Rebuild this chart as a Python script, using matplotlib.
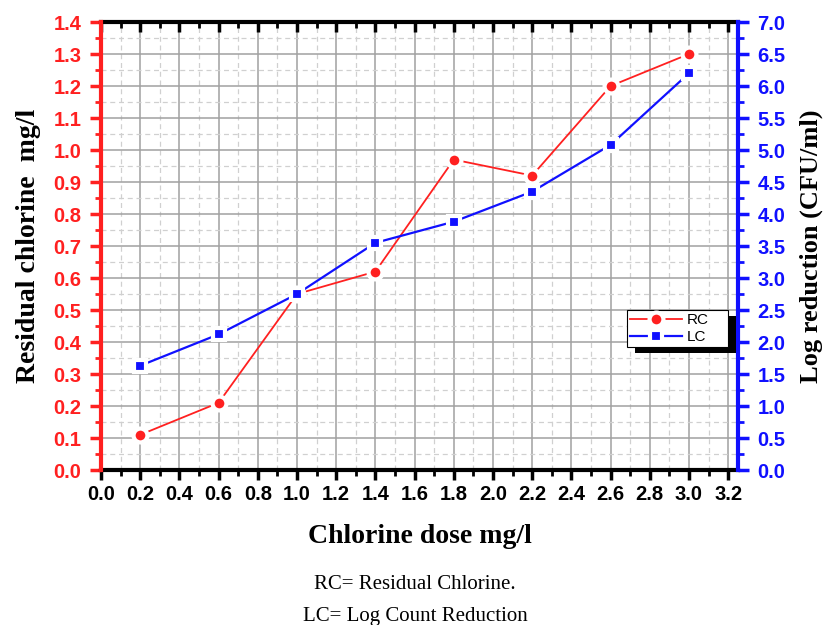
import matplotlib
matplotlib.use("Agg")
import matplotlib.pyplot as plt
from matplotlib.patches import Rectangle
from matplotlib.transforms import IdentityTransform
from matplotlib.ticker import MultipleLocator

# chlorine dose (mg/l)
dose = [0.2, 0.6, 1.0, 1.4, 1.8, 2.2, 2.6, 3.0]
# residual chlorine (mg/l), left axis
rc = [0.11, 0.21, 0.55, 0.62, 0.97, 0.92, 1.20, 1.30]
# log count reduction (CFU/ml), right axis
lc = [1.63, 2.12, 2.75, 3.55, 3.88, 4.35, 5.08, 6.20]

x_ticks = [round(0.2 * i, 1) for i in range(17)]
rc_ticks = [round(0.1 * i, 1) for i in range(15)]
lc_ticks = [0.5 * i for i in range(15)]

RED = "#ff2020"
BLUE = "#1010ff"
sans = "Liberation Sans"
serif = "Liberation Serif"

fig = plt.figure(figsize=(8.24, 6.25), dpi=100)
ax = fig.add_axes([0.1226, 0.248, 0.773, 0.7168])
ax2 = ax.twinx()

# lines are drawn with a small gap around each marker
gap = dict(markeredgecolor="white", markeredgewidth=3)
l1, = ax.plot(dose, rc, color=RED, lw=1.3, marker="o", ms=10, markerfacecolor=RED, zorder=3, **gap)
l2, = ax2.plot(dose, lc, color=BLUE, lw=1.6, marker="s", ms=9, markerfacecolor=BLUE, zorder=3, **gap)

ax.set_xlim(0, 3.25)
ax.set_ylim(0, 1.4)
ax2.set_ylim(0, 7.0)

ax.xaxis.set_minor_locator(MultipleLocator(0.1))
ax.yaxis.set_minor_locator(MultipleLocator(0.05))
ax2.yaxis.set_minor_locator(MultipleLocator(0.25))

ax.grid(which="major", color="#a0a0a0", lw=1.1, ls="-")
ax.grid(which="minor", color="#d0d0d0", lw=0.9, ls=(0, (4, 3)))
ax.set_axisbelow(True)

# spines
for side in ["top", "bottom"]:
    ax.spines[side].set_linewidth(3)
    ax.spines[side].set_color("black")
ax2.spines["top"].set_visible(False)
ax2.spines["bottom"].set_visible(False)
ax2.spines["left"].set_color(RED)
ax2.spines["left"].set_linewidth(3)
ax2.spines["right"].set_color(BLUE)
ax2.spines["right"].set_linewidth(3)
ax.spines["left"].set_visible(False)
ax.spines["right"].set_visible(False)

ax.tick_params(axis="x", which="major", direction="out", length=7, width=2.5, color="black", top=True)
ax.tick_params(axis="x", which="minor", direction="out", length=4, width=2, color="black", top=True)
ax.set_xticks(x_ticks)
ax.set_xticklabels([f"{v:.1f}" for v in x_ticks], fontfamily=sans, fontweight="bold",
                   fontsize=14.5, color="black")
# top ticks point inward
for t in ax.xaxis.get_major_ticks() + ax.xaxis.get_minor_ticks():
    t.tick2line.set_marker(3)

ax.tick_params(axis="y", which="major", direction="out", length=8, width=2.5, color=RED, pad=6)
ax.tick_params(axis="y", which="minor", direction="out", length=4.5, width=2, color=RED)
ax2.tick_params(axis="y", which="major", direction="out", length=8, width=2.5, color=BLUE, pad=6)
ax2.tick_params(axis="y", which="minor", direction="out", length=4.5, width=2, color=BLUE)

ax.set_yticks(rc_ticks)
ax.set_yticklabels([f"{v:.1f}" for v in rc_ticks], fontfamily=sans, fontweight="bold",
                   fontsize=14.5, color=RED)
ax2.set_yticks(lc_ticks)
ax2.set_yticklabels([f"{v:.1f}" for v in lc_ticks], fontfamily=sans, fontweight="bold",
                    fontsize=14.5, color=BLUE)

ax.set_xlabel("Chlorine dose mg/l", fontfamily=serif, fontweight="bold", fontsize=20, labelpad=15)
ax.set_ylabel("Residual chlorine  mg/l", fontfamily=serif, fontweight="bold", fontsize=20, labelpad=9)
ax2.set_ylabel("Log reduction (CFU/ml)", fontfamily=serif, fontweight="bold", fontsize=19, labelpad=10)

leg = ax2.legend([l1, l2], ["RC", "LC"], loc="lower left", bbox_to_anchor=(0.826, 0.2746, 0.159, 0.076),
                 mode="expand", frameon=True, fancybox=False, framealpha=1, edgecolor="black",
                 prop={"family": sans, "size": 11}, handlelength=3.4, borderpad=0.2,
                 labelspacing=0.2, handletextpad=0.3, borderaxespad=0)
leg.get_frame().set_linewidth(0.8)
leg.set_zorder(10)

fig.text(0.504, 0.057, "RC= Residual Chlorine.", ha="center", fontfamily=serif, fontsize=15)
fig.text(0.504, 0.006, "LC= Log Count Reduction", ha="center", fontfamily=serif, fontsize=15)

# legend drop shadow
fig.canvas.draw()
bb = leg.get_window_extent()
shadow = Rectangle((bb.x0 + 8, bb.y0 - 6), bb.width, bb.height, transform=IdentityTransform(),
                   facecolor="black", edgecolor="none", zorder=9)
shadow.set_clip_on(False)
ax2.add_artist(shadow)

fig.savefig("out.png", dpi=100)
